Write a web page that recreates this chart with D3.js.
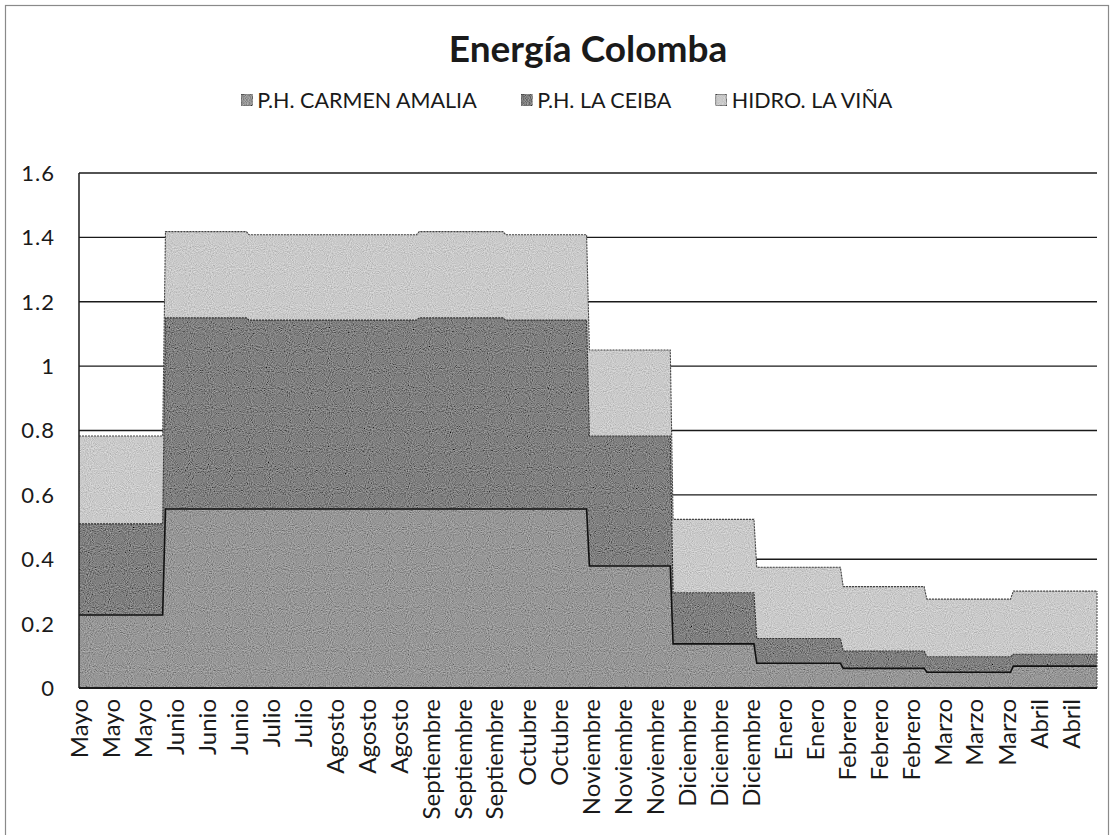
<!DOCTYPE html>
<html>
<head>
<meta charset="utf-8">
<script src="https://cdn.jsdelivr.net/npm/d3@7"></script>
<style>
  html, body { margin: 0; padding: 0; background: #ffffff; }
  svg { display: block; }
  text { font-family: Lato, "Open Sans", sans-serif; fill: #1a1a1a; }
</style>
</head>
<body>
<svg id="chart" width="1114" height="835"></svg>
<script>
// ---- data ----
const seriesNames = ["P.H. CARMEN AMALIA", "P.H. LA CEIBA", "HIDRO. LA VIÑA"];
const months = ["Mayo","Junio","Julio","Agosto","Septiembre","Octubre","Noviembre","Diciembre","Enero","Febrero","Marzo","Abril"];
// day offset where each month starts (from 1 May), and end of period
const monthStart = [0, 31, 61, 92, 122, 153, 183, 213, 243, 274, 304, 335];
const periodEnd = 365;
// energy per month (stack increments)
const carmen = [0.227, 0.556, 0.556, 0.556, 0.556, 0.556, 0.379, 0.137, 0.077, 0.061, 0.049, 0.068];
const ceiba  = [0.283, 0.594, 0.587, 0.587, 0.594, 0.587, 0.404, 0.159, 0.077, 0.054, 0.048, 0.037];
const vina   = [0.273, 0.268, 0.265, 0.265, 0.268, 0.265, 0.267, 0.228, 0.221, 0.200, 0.179, 0.196];
// category labels on the axis and the day they sit on
const xLabels = ["Mayo","Mayo","Mayo","Junio","Junio","Junio","Julio","Julio","Agosto","Agosto","Agosto",
  "Septiembre","Septiembre","Septiembre","Octubre","Octubre","Noviembre","Noviembre","Noviembre",
  "Diciembre","Diciembre","Diciembre","Enero","Enero","Febrero","Febrero","Febrero",
  "Marzo","Marzo","Marzo","Abril","Abril"];
const xLabelDay = [0, 11.5, 22.9, 34.4, 45.9, 57.4, 68.8, 80.3, 91.8, 103.3, 114.7, 126.2, 137.7, 149.1,
  160.6, 172.1, 183.6, 195.0, 206.5, 218.0, 229.5, 240.9, 252.4, 263.9, 275.4, 286.8, 298.3, 309.8,
  321.2, 332.7, 344.2, 355.7];
const yTicks = [0, 0.2, 0.4, 0.6, 0.8, 1, 1.2, 1.4, 1.6];
const title = "Energía Colomba";

// ---- styles ----
const fills = ["#979797", "#808080", "#cacaca"];
const strokes = ["#111111", "#333333", "#454545"];
const strokeW = [1.6, 1.1, 1.1];

// ---- layout ----
const svg = d3.select("#chart");
const plot = { left: 79, right: 1097, top: 173, bottom: 688 };

// chart border
svg.append("rect").attr("x", 5.5).attr("y", 5.5).attr("width", 1103).attr("height", 860)
  .attr("fill", "none").attr("stroke", "#8a8a8a").attr("stroke-width", 1.2);

// grain filter (scanned look)
const defs = svg.append("defs");
const f = defs.append("filter").attr("id", "grain").attr("x", 0).attr("y", 0).attr("width", 1).attr("height", 1);
f.append("feTurbulence").attr("type", "fractalNoise").attr("baseFrequency", 0.95).attr("numOctaves", 1).attr("seed", 4).attr("result", "t");
f.append("feColorMatrix").attr("in", "t").attr("type", "matrix")
  .attr("values", "0.33 0.33 0.33 0 0  0.33 0.33 0.33 0 0  0.33 0.33 0.33 0 0  0 0 0 0 1").attr("result", "g");
f.append("feComposite").attr("in", "SourceGraphic").attr("in2", "g").attr("operator", "arithmetic")
  .attr("k1", 0).attr("k2", 1).attr("k3", 0.9).attr("k4", -0.45).attr("result", "n");
f.append("feComposite").attr("in", "n").attr("in2", "SourceGraphic").attr("operator", "in");

const x = d3.scaleLinear().domain([0, periodEnd]).range([plot.left, plot.right]);
const y = d3.scaleLinear().domain([0, 1.6]).range([plot.bottom, plot.top]);

// gridlines
svg.append("g").selectAll("line").data(yTicks.filter(d => d > 0)).join("line")
  .attr("x1", plot.left).attr("x2", plot.right)
  .attr("y1", d => y(d)).attr("y2", d => y(d))
  .attr("stroke", "#1a1a1a").attr("stroke-width", 1.4);

// build step rows: each month holds its value from its first to its last day
const rows = [];
months.forEach((m, i) => {
  const s = monthStart[i];
  const e = i < months.length - 1 ? monthStart[i + 1] - 1 : periodEnd;
  [s, e].forEach(day => rows.push({ day, a: carmen[i], b: ceiba[i], c: vina[i] }));
});
const stack = d3.stack().keys(["a", "b", "c"]);
const layers = stack(rows);

const area = d3.area().x(d => x(d.data.day)).y0(d => y(d[0])).y1(d => y(d[1]));
const topLine = d3.line().x(d => x(d.data.day)).y(d => y(d[1]));

const gA = svg.append("g");
gA.selectAll("path.area").data(layers).join("path").attr("class", "area")
  .attr("d", area).attr("fill", (d, i) => fills[i]).attr("filter", "url(#grain)");
// draw top outlines, upper series first so the black Carmen line stays visible
gA.selectAll("path.edge").data(layers.slice().reverse()).join("path").attr("class", "edge")
  .attr("d", topLine).attr("fill", "none")
  .attr("stroke", d => strokes[d.index]).attr("stroke-width", d => strokeW[d.index])
  .attr("stroke-dasharray", d => d.index === 0 ? null : "2,1");
// dotted right edge of the stacked area
const lastTop = layers[2][layers[2].length - 1];
gA.append("line").attr("x1", x(lastTop.data.day)).attr("x2", x(lastTop.data.day))
  .attr("y1", y(0)).attr("y2", y(lastTop[1]))
  .attr("stroke", "#444").attr("stroke-width", 1).attr("stroke-dasharray", "2,1");

// axes lines
svg.append("line").attr("x1", plot.left).attr("x2", plot.left).attr("y1", plot.top).attr("y2", plot.bottom)
  .attr("stroke", "#1a1a1a").attr("stroke-width", 1.5);
svg.append("line").attr("x1", plot.left).attr("x2", plot.right).attr("y1", plot.bottom).attr("y2", plot.bottom)
  .attr("stroke", "#1a1a1a").attr("stroke-width", 1.8);

// y tick labels
svg.append("g").selectAll("text").data(yTicks).join("text")
  .attr("x", 55).attr("y", d => y(d)).attr("dy", "0.36em")
  .attr("text-anchor", "end").attr("font-size", 22).attr("letter-spacing", 1)
  .text(d => d3.format("~g")(d));

// x labels (rotated)
svg.append("g").selectAll("text").data(xLabels).join("text")
  .attr("transform", (d, i) => `translate(${x(xLabelDay[i])},699) rotate(-90)`)
  .attr("text-anchor", "end").attr("dy", "0.36em").attr("font-size", 24)
  .text(d => d);

// title
svg.append("text").attr("x", 588).attr("y", 62).attr("text-anchor", "middle")
  .attr("font-size", 37).attr("font-weight", "bold").text(title);

// legend
const lg = svg.append("g");
const items = lg.selectAll("g").data(seriesNames).join("g");
items.append("rect").attr("width", 11).attr("height", 11).attr("y", -5.5)
  .attr("fill", (d, i) => fills[i]).attr("stroke", "#555").attr("stroke-width", 0.6).attr("filter", "url(#grain)");
items.append("text").attr("x", 16).attr("dy", "0.36em").attr("font-size", 21.5).text(d => d);
let cx = 0;
const gap = 44;
items.each(function () {
  const w = this.getBBox().width;
  d3.select(this).attr("transform", `translate(${cx},100)`);
  cx += w + gap;
});
const totalW = cx - gap;
lg.attr("transform", `translate(${567 - totalW / 2},0)`);
</script>
</body>
</html>
